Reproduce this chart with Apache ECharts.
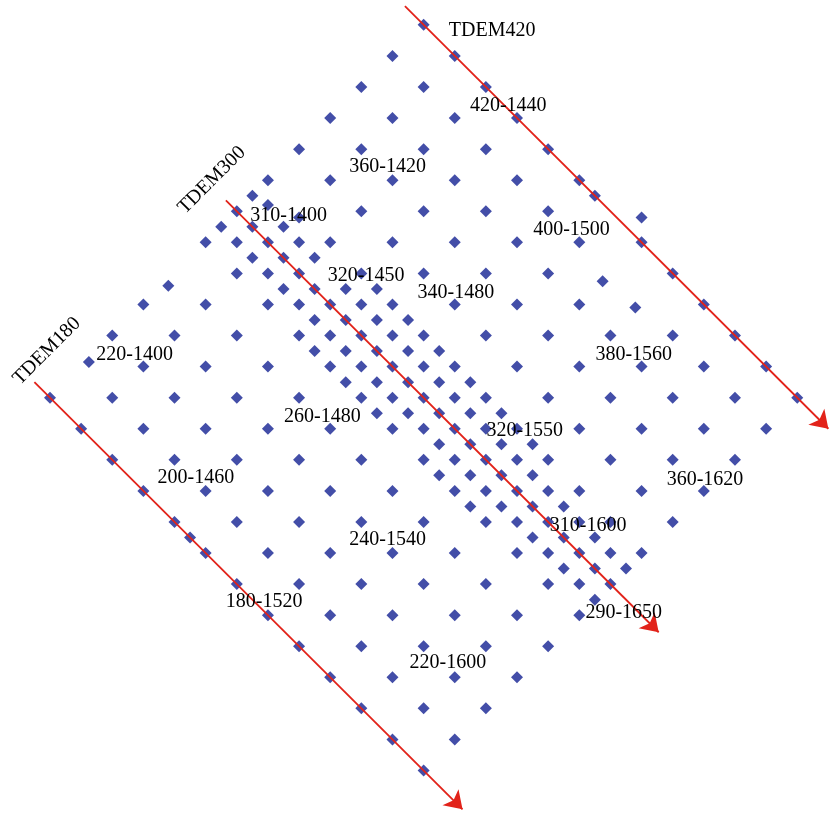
<!DOCTYPE html>
<html>
<head>
<meta charset="utf-8">
<script src="https://cdn.jsdelivr.net/npm/echarts@6/dist/echarts.min.js"></script>
<style>
  html, body { margin: 0; padding: 0; background: #ffffff; }
  #chart { width: 829px; height: 814px; }
</style>
</head>
<body>
<div id="chart"></div>
<script>
// ---- survey layout: line number (m) and station number (m) ----
const surveyLines = [180, 200, 220, 240, 260, 280, 300, 320, 340, 360, 380, 400, 420];
const baseStations = [1400, 1420, 1440, 1460, 1480, 1500, 1520, 1540, 1560, 1580, 1600, 1620, 1640];

// nominal 20 m stations that were occupied at a shifted spot (see shiftedPoints) or dropped
const skippedStations = [[200, 1400], [260, 1400], [320, 1420], [400, 1540], [400, 1560], [420, 1520]];
// points measured away from the nominal grid
const shiftedPoints = [[204, 1401], [254, 1402], [318, 1422], [312, 1408], [395, 1540], [397, 1559], [428, 1532]];
// single extra stations on the outer lines
const extraPoints = [[180, 1490], [420, 1510]];

// 10 m infill around TDEM300
const infill280 = [1470, 1490, 1510, 1550, 1570];
const infill290 = [1400, 1410, 1420, 1430, 1440, 1450, 1460, 1470, 1480, 1490, 1500, 1510, 1520,
                   1530, 1540, 1550, 1560, 1570, 1580, 1590, 1600, 1610, 1620, 1630, 1640];
const infill300 = [1410, 1430, 1450, 1470, 1490, 1510, 1530, 1550, 1570, 1590, 1610, 1630];
const infill310 = [1400, 1420, 1430, 1440, 1460, 1470, 1480, 1490, 1500, 1510, 1520, 1530, 1540,
                   1550, 1560, 1570, 1580, 1590, 1600, 1610, 1620, 1630, 1640];
const infill320 = [1470, 1490, 1510, 1530, 1550, 1570];

// TDEM profiles (line number, first and last station of the drawn arrow)
const profileNames = ['TDEM180', 'TDEM300', 'TDEM420'];
const profileLines = [180, 300, 420];
const profileStart = [1390, 1393, 1388];
const profileEnd = [1665, 1671, 1660];

// annotated points, "line-station"
const pointLabels = ['420-1440', '360-1420', '310-1400', '400-1500', '320-1450', '340-1480',
                     '220-1400', '380-1560', '260-1480', '320-1550', '200-1460', '360-1620',
                     '310-1600', '240-1540', '180-1520', '290-1650', '220-1600'];

// ---- layout (pixels / placement only) ----
const pointLabelOffsets = [[-16, 19], [-12, 18], [-2, 20], [-15, 18], [-18, 18], [-6, 19],
                           [-16, 19], [-15, 19], [-15, 19], [-15, 18], [-17, 18], [-6, 20],
                           [-14, 19], [-12, 18], [-11, 18], [-25, -2], [-14, 17]];
const profileTitleAnchors = [[194, 1384], [302, 1382], [440, 1424]];
const profileTitleRotate = [45, 45, 0];

// grid coordinates (line, station) -> map frame rotated by 45 degrees
function toMap(line, station) {
  return [station + line, line - station];
}

// assemble the point list
const pts = [];
const isSkipped = (l, s) => skippedStations.some(p => p[0] === l && p[1] === s);
surveyLines.forEach(l => {
  baseStations.forEach(s => { if (!isSkipped(l, s)) pts.push([l, s]); });
});
infill280.forEach(s => pts.push([280, s]));
infill290.forEach(s => pts.push([290, s]));
infill300.forEach(s => pts.push([300, s]));
infill310.forEach(s => pts.push([310, s]));
infill320.forEach(s => pts.push([320, s]));
shiftedPoints.forEach(p => pts.push(p));
extraPoints.forEach(p => pts.push(p));

const serif = '"Liberation Serif", "DejaVu Serif", serif';
const textLabel = {
  show: true,
  position: 'inside',
  verticalAlign: 'middle',
  formatter: p => p.name,
  fontFamily: serif,
  fontSize: 20,
  color: '#000000',
  opacity: 1
};

const chart = echarts.init(document.getElementById('chart'), null, { renderer: 'canvas' });
chart.setOption({
  animation: false,
  backgroundColor: '#ffffff',
  grid: { left: 0, right: 0, top: 0, bottom: 0 },
  xAxis: { type: 'value', min: 1547.9, max: 2080.4, show: false },
  yAxis: { type: 'value', min: -1488, max: -964, show: false },
  series: [
    {
      type: 'scatter',
      name: 'stations',
      clip: false,
      symbol: 'diamond',
      symbolSize: 12,
      itemStyle: { color: '#434ea8', opacity: 1 },
      z: 2,
      data: pts.map(p => toMap(p[0], p[1]))
    },
    {
      type: 'lines',
      name: 'profiles',
      coordinateSystem: 'cartesian2d',
      clip: false,
      symbol: ['none', 'arrow'],
      symbolSize: [10, 17],
      lineStyle: { color: '#e2231a', width: 1.8, opacity: 1, curveness: 0 },
      z: 3,
      data: profileLines.map((l, k) => ({
        coords: [toMap(l, profileStart[k]), toMap(l, profileEnd[k])]
      }))
    },
    {
      type: 'scatter',
      name: 'pointLabels',
      clip: false,
      symbolSize: 1,
      itemStyle: { color: 'rgba(255,255,255,0)', opacity: 1 },
      z: 4,
      data: pointLabels.map((t, k) => {
        const parts = t.split('-').map(Number);
        return {
          name: t,
          value: toMap(parts[0], parts[1]),
          label: { offset: pointLabelOffsets[k] }
        };
      }),
      label: Object.assign({ align: 'left' }, textLabel)
    },
    {
      type: 'scatter',
      name: 'profileTitles',
      clip: false,
      symbolSize: 1,
      itemStyle: { color: 'rgba(255,255,255,0)', opacity: 1 },
      z: 4,
      data: profileNames.map((n, k) => ({
        name: n,
        value: toMap(profileTitleAnchors[k][0], profileTitleAnchors[k][1]),
        label: { rotate: profileTitleRotate[k] }
      })),
      label: Object.assign({ align: 'center' }, textLabel)
    }
  ]
});
</script>
</body>
</html>
